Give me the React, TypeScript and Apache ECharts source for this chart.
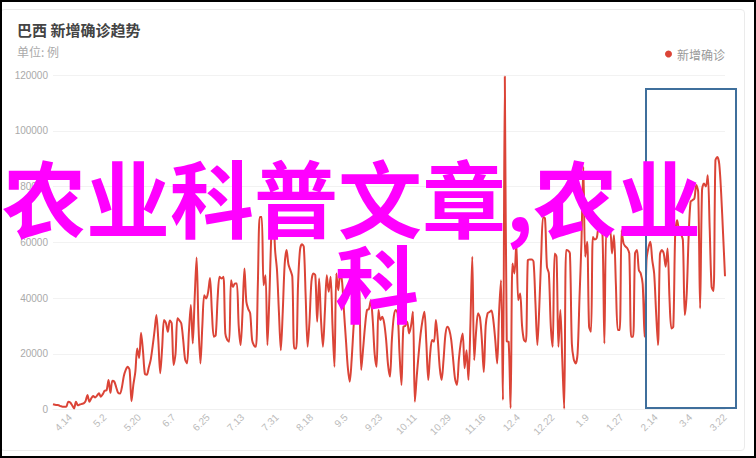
import { useEffect, useRef } from 'react'
import * as echarts from 'echarts'

// 日期: 2020-04-05 ~ 2021-03-22，按天
const dates: string[] = []
for (let i = 0; i < 352; i++) {
  const d = new Date(2020, 3, 5 + i)
  dates.push(`${d.getMonth() + 1}.${d.getDate()}`)
}

// 每日新增确诊
const newCases = [
  1900, 1700, 1600, 1500, 1200, 1000, 1000, 1100, 2800, 2500,
  1500, 400, 2800, 1500, 1800, 2000, 2200, 3000, 5200, 2800,
  4000, 4800, 4300, 5000, 5800, 4600, 5500, 6700, 6900, 10600,
  6000, 10300, 10000, 8000, 6000, 5700, 8000, 12000, 14200, 15300,
  14200, 3000, 9000, 13500, 21900, 18500, 27500, 21000, 12700, 12500,
  15000, 17700, 22500, 28000, 33900, 25000, 13000, 22000, 32100, 31000,
  27900, 31900, 30900, 16000, 20000, 32700, 32000, 30900, 25000, 18000,
  16500, 28000, 37500, 23700, 40000, 54500, 30000, 16500, 30000, 41000,
  39800, 42000, 47200, 35000, 26100, 26700, 40000, 47600, 47000, 47600,
  27300, 25000, 24300, 46400, 44000, 45200, 45200, 30000, 23100, 35000,
  50600, 38600, 36000, 34500, 24900, 23000, 22500, 45000, 69100, 69100,
  44600, 48200, 23100, 40000, 62000, 72000, 57200, 50000, 35000, 21300,
  35000, 52000, 57200, 52000, 50000, 47600, 21900, 21900, 45000, 57200,
  59300, 58400, 40000, 22500, 32000, 46000, 48800, 48200, 31500, 47000,
  32000, 22500, 35000, 48200, 42200, 47600, 30000, 15300, 48800, 42800,
  48800, 45800, 35000, 25000, 15000, 10000, 18000, 29700, 40000, 48800,
  41600, 14200, 22000, 30000, 35700, 36000, 39200, 32000, 20000, 15300,
  35700, 32100, 33300, 30900, 25000, 16000, 11800, 25000, 33300, 35700,
  34500, 20000, 8800, 29700, 30000, 31500, 27300, 30000, 35100, 2800,
  12000, 20000, 27000, 32000, 35100, 24000, 10600, 20000, 24900, 24300,
  32100, 25000, 15000, 10600, 18000, 27000, 29700, 28500, 25000, 18000,
  11000, 8800, 18000, 24000, 27300, 14800, 21300, 10600, 30000, 54800,
  17700, 28000, 34500, 33000, 25000, 13500, 30000, 34500, 35000, 35500,
  32000, 25000, 16500, 35000, 46400, 3400, 119500, 24500, 24300, 500,
  52400, 48800, 59600, 39200, 41600, 30000, 24900, 24300, 53600, 53800,
  53800, 53000, 38000, 23100, 36800, 55000, 69100, 68500, 51200, 48800,
  30000, 22500, 56000, 54800, 22500, 35700, 18000, 300, 57200, 57000,
  56000, 23700, 18000, 16500, 20100, 40000, 59600, 87000, 54800, 60200,
  29700, 27900, 61900, 61000, 61500, 65500, 64000, 63200, 23700, 64300,
  64300, 64300, 56000, 62500, 45000, 28500, 28500, 64300, 59600, 58500,
  57800, 56000, 26100, 26100, 56000, 57200, 50000, 48800, 45000, 26100,
  53600, 58000, 60200, 53600, 48800, 35000, 23100, 55400, 57200, 56000,
  51200, 57800, 40000, 29100, 29700, 63200, 67900, 64300, 63000, 60800,
  33900, 41600, 62000, 74500, 75100, 75700, 80500, 78000, 36300, 78700,
  81100, 80000, 84000, 65000, 44000, 42500, 89400, 90600, 88000, 77500,
  63000, 47800
]

const FONT = '"Liberation Sans", "Noto Sans CJK SC", sans-serif'
const CJK = '"Noto Sans CJK SC", sans-serif'
const RED = '#db4437'

export default function App() {
  const chartRef = useRef<HTMLDivElement>(null)

  useEffect(() => {
    if (!chartRef.current) return
    const chart = echarts.init(chartRef.current, undefined, { renderer: 'svg' })

    const option: echarts.EChartsOption = {
      animation: false,
      textStyle: { fontFamily: FONT },
      title: {
        text: '巴西 新增确诊趋势',
        subtext: '单位: 例',
        left: 12,
        top: 17,
        itemGap: 8,
        textStyle: { fontSize: 15, fontWeight: 'bold', color: '#444', fontFamily: CJK },
        subtextStyle: { fontSize: 12, color: '#aaa', fontFamily: CJK }
      },
      legend: {
        data: ['新增确诊'],
        right: 26,
        top: 43,
        icon: 'circle',
        itemWidth: 7,
        itemHeight: 7,
        textStyle: { color: '#999', fontSize: 12, fontFamily: CJK }
      },
      grid: { left: 53, right: 31, top: 75, bottom: 48.5 },
      xAxis: {
        type: 'category',
        data: dates,
        boundaryGap: false,
        axisLine: { lineStyle: { color: '#f0f0f0' } },
        axisTick: { show: false },
        axisLabel: {
          rotate: 45,
          color: '#bbb',
          fontSize: 10,
          margin: 6,
          interval: (i: number) => i >= 9 && (i - 9) % 18 === 0
        }
      },
      yAxis: {
        type: 'value',
        min: 0,
        max: 120000,
        interval: 20000,
        axisLine: { show: false },
        axisTick: { show: false },
        axisLabel: { color: '#aaa', fontSize: 10, margin: 5, formatter: (v: number) => String(v) },
        splitLine: { lineStyle: { color: '#f2f2f2' } }
      },
      series: [
        {
          name: '新增确诊',
          type: 'line',
          data: newCases,
          smooth: 0.3,
          showSymbol: false,
          lineStyle: { width: 2, color: RED },
          itemStyle: { color: RED }
        }
      ],
      graphic: [
        {
          type: 'rect',
          z: 100,
          shape: { x: 646, y: 89, width: 90, height: 319 },
          style: { fill: 'none', stroke: '#3f6f9c', lineWidth: 2 }
        },
        {
          type: 'text',
          z: 110,
          x: 2,
          y: 195,
          style: {
            text: '农业科普文章,农业',
            fill: '#ff00ff',
            fontSize: 84,
            fontWeight: 'bold',
            fontFamily: CJK,
            textAlign: 'left',
            textVerticalAlign: 'middle'
          } as any
        },
        {
          type: 'text',
          z: 110,
          x: 377,
          y: 280,
          style: {
            text: '科',
            fill: '#ff00ff',
            fontSize: 84,
            fontWeight: 'bold',
            fontFamily: CJK,
            textAlign: 'center',
            textVerticalAlign: 'middle'
          } as any
        }
      ]
    }

    chart.setOption(option)

    return () => {
      chart.dispose()
    }
  }, [])

  return (
    <div style={{ position: 'fixed', left: 0, top: 0, width: 756, height: 458, background: '#fff' }}>
      {/* 卡片 */}
      <div
        style={{
          position: 'absolute', left: 0, top: 9, width: 745, height: 442,
          border: '1px solid #ebebeb', borderRadius: 4, boxSizing: 'border-box'
        }}
      />
      <div ref={chartRef} style={{ position: 'absolute', left: 0, top: 0, width: 756, height: 458 }} />
      {/* 外框 */}
      <div
        style={{
          position: 'absolute', left: 0, top: 0, width: 756, height: 458,
          border: '2px solid #000', boxSizing: 'border-box', pointerEvents: 'none'
        }}
      />
    </div>
  )
}
